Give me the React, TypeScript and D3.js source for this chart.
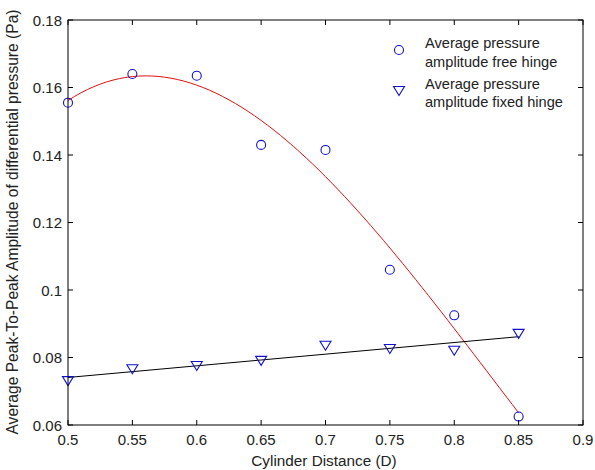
import React, { useEffect, useRef } from 'react';
import * as d3 from 'd3';

// data
const distances = [0.5, 0.55, 0.6, 0.65, 0.7, 0.75, 0.8, 0.85];
const freeHinge = [0.1555, 0.164, 0.1635, 0.143, 0.1415, 0.106, 0.0925, 0.0625];
const fixedHinge = [0.073, 0.0765, 0.0775, 0.079, 0.0835, 0.0825, 0.082, 0.087];
const xTicks = [0.5, 0.55, 0.6, 0.65, 0.7, 0.75, 0.8, 0.85, 0.9];
const yTicks = [0.06, 0.08, 0.1, 0.12, 0.14, 0.16, 0.18];
const legendLabels = [
  ['Average pressure', 'amplitude free hinge'],
  ['Average pressure', 'amplitude fixed hinge'],
];

const W = 595;
const H = 470;
const font = '"Liberation Sans", Arial, sans-serif';
const blue = '#1010d0';

// least squares polynomial fit (like matlab polyfit)
function polyfit(xs: number[], ys: number[], deg: number) {
  const n = deg + 1;
  const A: number[][] = [];
  for (let r = 0; r < n; r++) {
    A.push([]);
    for (let c = 0; c <= n; c++) A[r].push(0);
  }
  xs.forEach((x, k) => {
    for (let r = 0; r < n; r++) {
      for (let c = 0; c < n; c++) A[r][c] += Math.pow(x, r + c);
      A[r][n] += ys[k] * Math.pow(x, r);
    }
  });
  for (let i = 0; i < n; i++) {
    let p = i;
    for (let j = i + 1; j < n; j++) if (Math.abs(A[j][i]) > Math.abs(A[p][i])) p = j;
    [A[i], A[p]] = [A[p], A[i]];
    for (let j = 0; j < n; j++) {
      if (j === i) continue;
      const f = A[j][i] / A[i][i];
      for (let c = i; c <= n; c++) A[j][c] -= f * A[i][c];
    }
  }
  const coef = A.map((row, i) => row[n] / row[i]);
  return (x: number) => coef.reduce((s, c, i) => s + c * Math.pow(x, i), 0);
}

export default function App() {
  const ref = useRef<SVGSVGElement>(null);

  useEffect(() => {
    const svg = d3.select(ref.current);
    svg.selectAll('*').remove();

    const left = 68, right = 583, top = 20, bottom = 425;
    const x = d3.scaleLinear().domain([0.5, 0.9]).range([left, right]);
    const y = d3.scaleLinear().domain([0.06, 0.18]).range([bottom, top]);

    svg.append('rect').attr('width', W).attr('height', H).attr('fill', '#fff');

    // fit curves
    const redFit = polyfit(distances, freeHinge, 3);
    const blackFit = polyfit(distances, fixedHinge, 1);
    const xs = d3.range(0.5, 0.8501, 0.005);
    const line = d3.line<number[]>().x(d => x(d[0])).y(d => y(d[1]));
    svg.append('path')
      .attr('d', line(xs.map(v => [v, redFit(v)])))
      .attr('fill', 'none').attr('stroke', '#e01010').attr('stroke-width', 1);
    svg.append('path')
      .attr('d', line([0.5, 0.85].map(v => [v, blackFit(v)])))
      .attr('fill', 'none').attr('stroke', '#000').attr('stroke-width', 1);

    // markers
    const circle = (g: any, cx: number, cy: number) => g.append('circle')
      .attr('cx', cx).attr('cy', cy).attr('r', 4.5)
      .attr('fill', 'none').attr('stroke', blue).attr('stroke-width', 1.1);
    const tri = (g: any, cx: number, cy: number) => g.append('path')
      .attr('d', `M${cx - 5.5},${cy - 4.5} L${cx + 5.5},${cy - 4.5} L${cx},${cy + 4.5} Z`)
      .attr('fill', 'none').attr('stroke', blue).attr('stroke-width', 1.1);

    const marks = svg.append('g');
    distances.forEach((d, i) => {
      circle(marks, x(d), y(freeHinge[i]));
      tri(marks, x(d), y(fixedHinge[i]));
    });

    // axes box + ticks
    const ax = svg.append('g').attr('stroke', '#000').attr('stroke-width', 1);
    ax.append('rect').attr('x', left).attr('y', top)
      .attr('width', right - left).attr('height', bottom - top).attr('fill', 'none');
    xTicks.forEach(t => {
      ax.append('line').attr('x1', x(t)).attr('x2', x(t)).attr('y1', bottom).attr('y2', bottom - 5);
      ax.append('line').attr('x1', x(t)).attr('x2', x(t)).attr('y1', top).attr('y2', top + 5);
    });
    yTicks.forEach(t => {
      ax.append('line').attr('x1', left).attr('x2', left + 5).attr('y1', y(t)).attr('y2', y(t));
      ax.append('line').attr('x1', right).attr('x2', right - 5).attr('y1', y(t)).attr('y2', y(t));
    });

    const txt = svg.append('g').attr('font-family', font).attr('fill', '#222');
    xTicks.forEach(t => {
      txt.append('text').attr('x', x(t)).attr('y', bottom + 20)
        .attr('text-anchor', 'middle').attr('font-size', 15).text(d3.format('~g')(t));
    });
    yTicks.forEach(t => {
      txt.append('text').attr('x', left - 6).attr('y', y(t) + 5.5)
        .attr('text-anchor', 'end').attr('font-size', 15).text(d3.format('~g')(t));
    });

    txt.append('text').attr('x', 324).attr('y', 465.5)
      .attr('text-anchor', 'middle').attr('font-size', 15.3).text('Cylinder Distance (D)');
    txt.append('text')
      .attr('transform', `translate(17.5,222) rotate(-90)`)
      .attr('text-anchor', 'middle').attr('font-size', 15.6)
      .text('Average Peak-To-Peak Amplitude of differential pressure (Pa)');

    // legend
    const lg = svg.append('g');
    circle(lg, 399, 50);
    tri(lg, 399, 91);
    legendLabels.forEach((lines, i) => {
      lines.forEach((s, j) => {
        lg.append('text').attr('x', 425).attr('y', 48 + i * 40.5 + j * 18.5)
          .attr('font-family', font).attr('font-size', 14.6).attr('fill', '#222').text(s);
      });
    });
  }, []);

  return (
    <svg ref={ref} width={W} height={H}
      style={{ position: 'absolute', left: 0, top: 0, display: 'block' }} />
  );
}
